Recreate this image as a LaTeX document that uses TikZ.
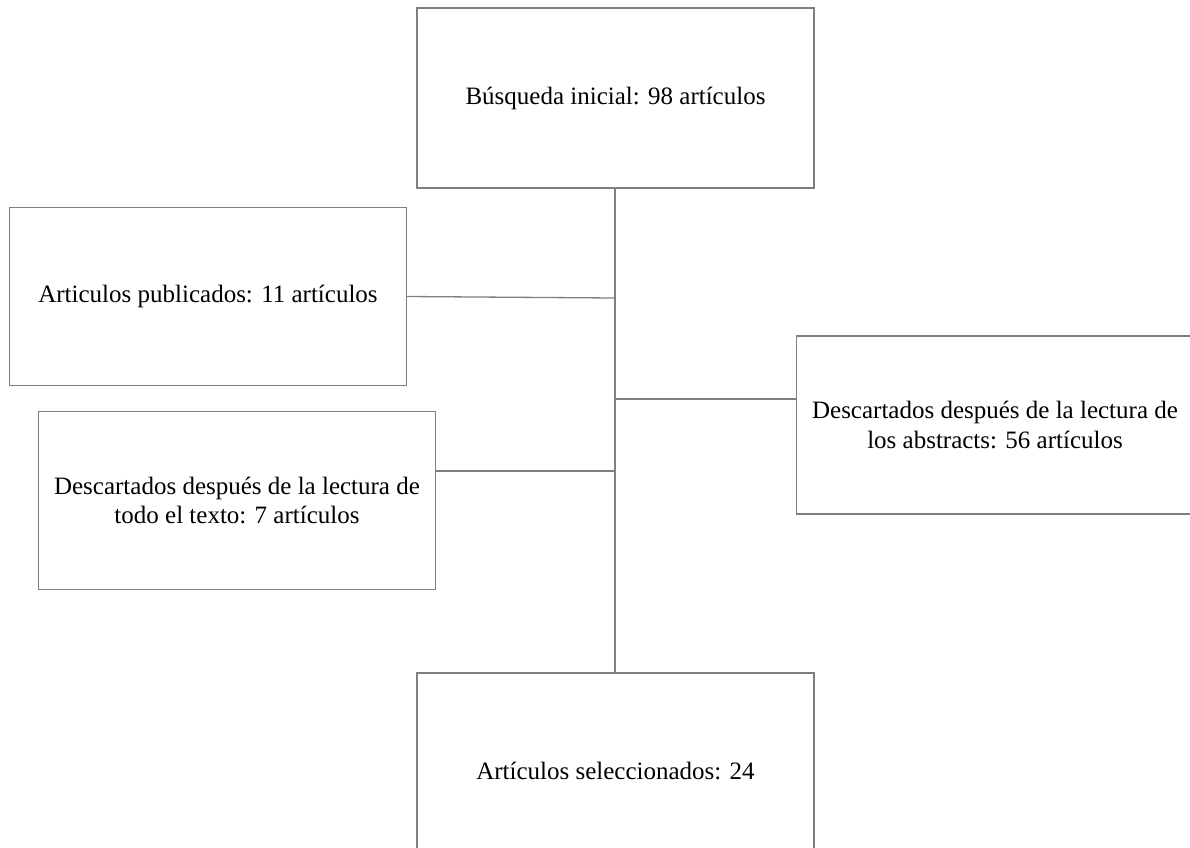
\documentclass[tikz,border=0pt]{standalone}
\usepackage{fontspec}
\setmainfont{Liberation Serif}
\usepackage{tikz}
\usetikzlibrary{positioning}
\definecolor{edge}{HTML}{7F7F7F}

\begin{document}
\begin{tikzpicture}[
    x=1pt, y=-1pt,
    box/.style={draw=edge, line width=1.3pt, minimum width=397pt, minimum height=178pt, align=center, inner sep=0pt, font=\fontsize{25}{29.5}\selectfont},
    link/.style={draw=edge, line width=1.3pt}
]
    \useasboundingbox (0,0) rectangle (1190,847);
    \clip (0,0) rectangle (1190,847);

    % Boxes
    \node[box, minimum height=180pt] (busq) at (615.5,98) {Búsqueda inicial: 98 artículos};
    \node[box] (publ) at (208,296.5) {Articulos publicados: 11 artículos};
    \node[box] (abst) at (995,425) {Descartados después de la lectura de\\los abstracts: 56 artículos};
    \node[box] (text) at (237,500.5) {Descartados después de la lectura de\\todo el texto: 7 artículos};
    \node[box, minimum height=196pt] (sele) at (615.5,771) {Artículos seleccionados: 24};

    % Spine and branches
    \coordinate (j1) at (615,298);
    \coordinate (j2) at (615,399);
    \coordinate (j3) at (615,471);
    \draw[link] (busq.south -| j1) -- (sele.north -| j1);
    \draw[link] (publ.east) -- (j1);
    \draw[link] (j2) -- (j2 -| abst.west);
    \draw[link] (text.east |- j3) -- (j3);
\end{tikzpicture}
\end{document}
